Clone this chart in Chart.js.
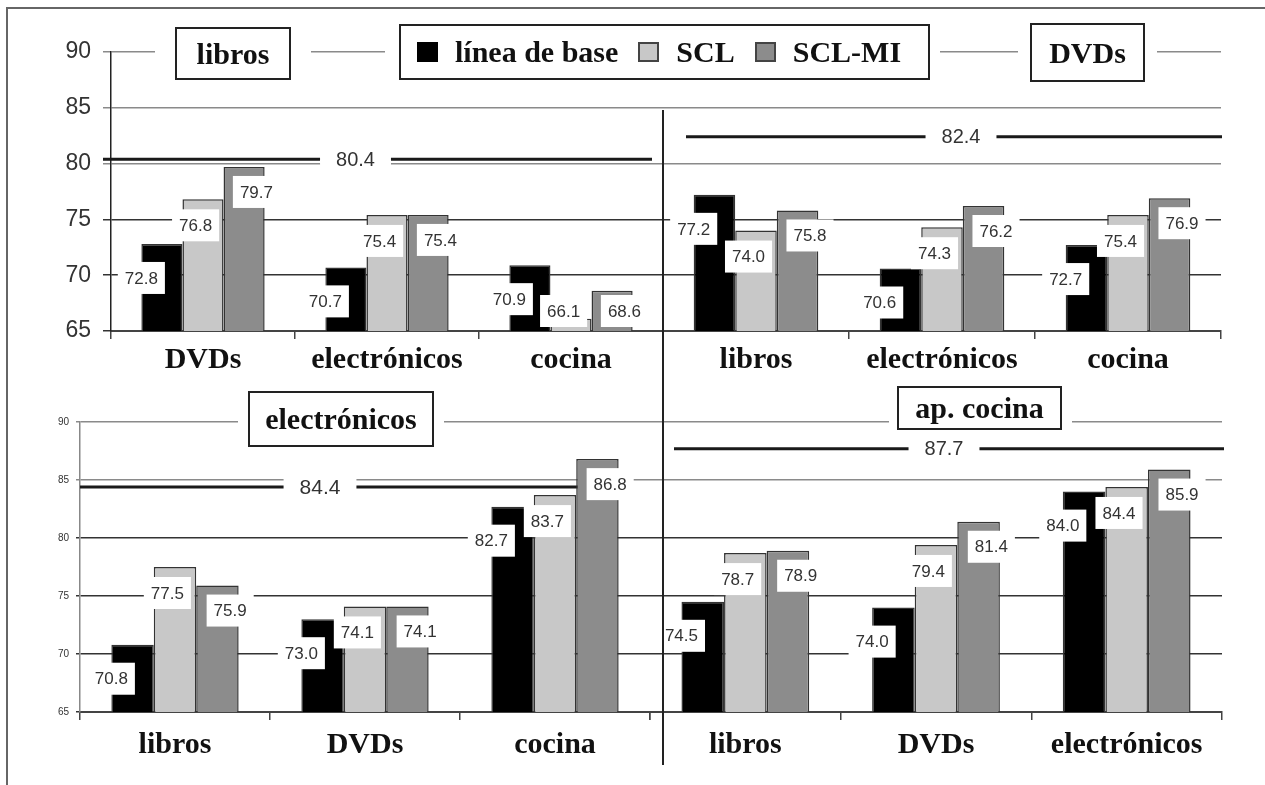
<!DOCTYPE html>
<html>
<head>
<meta charset="utf-8">
<script src="https://cdn.jsdelivr.net/npm/chart.js@4.4.0/dist/chart.umd.min.js"></script>
<style>
body { margin: 0; background: #fff; width: 1265px; height: 785px; overflow: hidden; position: relative; }
canvas { position: absolute; left: 0; top: 0; }
.frame { position: absolute; left: 6px; top: 7px; width: 1280px; height: 800px; border-top: 2px solid #666; border-left: 2px solid #666; }
.divider { position: absolute; left: 662px; top: 110px; width: 2px; height: 655px; background: #222; }
.box { position: absolute; box-sizing: border-box; border: 2px solid #222; background: #fff;
       font-family: 'Liberation Serif', serif; font-weight: bold; font-size: 30px; color: #111;
       display: flex; align-items: center; justify-content: center; }
.legend { justify-content: flex-start; padding-left: 16px; }
.sq { display: inline-block; width: 21px; height: 20px; box-sizing: border-box; margin-right: 17px; }
.item { display: flex; align-items: center; margin-right: 20px; }
</style>
</head>
<body>
<canvas id="libros" width="1265" height="785"></canvas>
<canvas id="dvds" width="1265" height="785"></canvas>
<canvas id="electronicos" width="1265" height="785"></canvas>
<canvas id="cocina" width="1265" height="785"></canvas>

<div class="frame"></div>
<div class="divider"></div>
<div class="box" style="left:175px; top:27px; width:116px; height:53px; box-shadow: 20px 0 0 #fff, -20px 0 0 #fff;">libros</div>
<div class="box legend" id="legend" style="left:399px; top:24px; width:531px; height:56px; box-shadow: 10px 0 0 #fff, -14px 0 0 #fff;"></div>
<div class="box" style="left:1030px; top:23px; width:115px; height:59px; box-shadow: 12px 0 0 #fff, -12px 0 0 #fff;">DVDs</div>
<div class="box" style="left:248px; top:391px; width:186px; height:56px; box-shadow: 10px 0 0 #fff, -10px 0 0 #fff;">electrónicos</div>
<div class="box" style="left:897px; top:386px; width:165px; height:44px; box-shadow: 10px 0 0 #fff, -8px 0 0 #fff;">ap. cocina</div>

<script>
const seriesNames = ['línea de base', 'SCL', 'SCL-MI']
const seriesColors = ['#000000', '#c8c8c8', '#8c8c8c']
const yTicks = [65, 70, 75, 80, 85, 90]

// panel "libros"
const librosCats = ['DVDs', 'electrónicos', 'cocina']
const librosBase = [72.8, 70.7, 70.9]
const librosScl = [76.8, 75.4, 66.1]
const librosSclMi = [79.7, 75.4, 68.6]
const librosRef = 80.4

// panel "DVDs"
const dvdsCats = ['libros', 'electrónicos', 'cocina']
const dvdsBase = [77.2, 70.6, 72.7]
const dvdsScl = [74.0, 74.3, 75.4]
const dvdsSclMi = [75.8, 76.2, 76.9]
const dvdsRef = 82.4

// panel "electrónicos"
const elecCats = ['libros', 'DVDs', 'cocina']
const elecBase = [70.8, 73.0, 82.7]
const elecScl = [77.5, 74.1, 83.7]
const elecSclMi = [75.9, 74.1, 86.8]
const elecRef = 84.4

// panel "ap. cocina"
const cocinaCats = ['libros', 'DVDs', 'electrónicos']
const cocinaBase = [74.5, 74.0, 84.0]
const cocinaScl = [78.7, 79.4, 84.4]
const cocinaSclMi = [78.9, 81.4, 85.9]
const cocinaRef = 87.7

// where each series puts its value box, relative to the bar top
const labelNudge = [{ dx: -0.5, dy: 34 }, { dx: -0.18, dy: 26 }, { dx: 0.3, dy: 25 }]

const legend = document.getElementById('legend')
seriesNames.forEach((name, i) => {
    const border = i === 0 ? '' : 'border:2px solid #444;'
    legend.insertAdjacentHTML('beforeend',
        `<span class="item"><span class="sq" style="background:${seriesColors[i]};${border}"></span>${name}</span>`)
})

const refLinePlugin = {
    id: 'refLine',
    beforeDatasetsDraw(chart, args, opts) {
        const { ctx, chartArea } = chart
        const y = chart.scales.y.getPixelForValue(opts.value)
        const x0 = chartArea.left + opts.startInset
        const x1 = chartArea.right - opts.endInset
        const text = opts.value.toFixed(1)
        ctx.save()
        ctx.font = `${opts.fontSize}px "Liberation Sans", Arial, sans-serif`
        const tw = ctx.measureText(text).width
        const cx = (x0 + x1) / 2 + opts.labelShift
        const gap = tw / 2 + 16
        ctx.fillStyle = '#fff'
        ctx.fillRect(cx - gap, y - 12, gap * 2, 24)
        ctx.strokeStyle = '#1a1a1a'
        ctx.lineWidth = 3
        ctx.beginPath()
        ctx.moveTo(x0, y)
        ctx.lineTo(cx - gap, y)
        ctx.moveTo(cx + gap, y)
        ctx.lineTo(x1, y)
        ctx.stroke()
        ctx.fillStyle = '#333'
        ctx.textAlign = 'center'
        ctx.textBaseline = 'middle'
        ctx.fillText(text, cx, y + 1)
        ctx.restore()
    }
}

const valueLabelPlugin = {
    id: 'valueLabels',
    afterDatasetsDraw(chart) {
        const { ctx, chartArea } = chart
        ctx.save()
        ctx.font = '17px "Liberation Sans", Arial, sans-serif'
        ctx.textAlign = 'center'
        ctx.textBaseline = 'middle'
        chart.data.datasets.forEach((ds, i) => {
            const nudge = labelNudge[i]
            chart.getDatasetMeta(i).data.forEach((bar, j) => {
                const text = ds.data[j].toFixed(1)
                const w = ctx.measureText(text).width + 14
                const h = 32
                const cx = bar.x + nudge.dx * bar.width
                const cy = Math.min(bar.y + nudge.dy, chartArea.bottom - h / 2 - 4)
                ctx.fillStyle = '#fff'
                ctx.fillRect(cx - w / 2, cy - h / 2, w, h)
                ctx.fillStyle = '#333'
                ctx.fillText(text, cx, cy + 1)
            })
        })
        ctx.restore()
    }
}

function makePanel(id, cats, base, scl, sclMi, ref, p) {
    const values = [base, scl, sclMi]
    const yScale = {
        min: 65,
        max: 90,
        afterBuildTicks: s => { s.ticks = yTicks.map(v => ({ value: v })) },
        grid: {
            color: c => (c.tick && c.tick.value >= p.greyFrom) ? '#8a8a8a' : '#333',
            lineWidth: 1.5,
            drawTicks: p.yLabels,
            tickLength: p.tickLength
        },
        afterFit: s => { s.width = p.axisWidth }
    }
    if (p.yLabels) {
        yScale.ticks = { font: { family: 'Liberation Sans', size: p.yFont }, color: '#333', padding: p.yPad }
        yScale.border = { display: true, color: p.axisColor, width: 1.5 }
    } else {
        yScale.ticks = { display: false }
        yScale.border = { display: false }
    }

    return new Chart(document.getElementById(id), {
        type: 'bar',
        data: {
            labels: cats,
            datasets: values.map((v, i) => ({
                label: seriesNames[i],
                data: v,
                backgroundColor: seriesColors[i],
                borderColor: '#333',
                borderWidth: 1.5,
                categoryPercentage: 0.67,
                barPercentage: 1.0
            }))
        },
        options: {
            responsive: false,
            animation: false,
            events: [],
            layout: { padding: p.padding },
            scales: {
                x: {
                    grid: { display: true, drawOnChartArea: false, tickLength: 8, color: '#444', lineWidth: 1.5 },
                    border: { display: true, color: '#444', width: 2 },
                    ticks: {
                        font: { family: 'Liberation Serif', size: 30, weight: 'bold' },
                        color: '#111',
                        padding: p.xPad,
                        autoSkip: false,
                        maxRotation: 0
                    },
                    afterFit: s => { s.height = 60 }
                },
                y: yScale
            },
            plugins: {
                legend: { display: false },
                tooltip: { enabled: false },
                refLine: Object.assign({ value: ref }, p.ref)
            }
        },
        plugins: [refLinePlugin, valueLabelPlugin]
    })
}

makePanel('libros', librosCats, librosBase, librosScl, librosSclMi, librosRef, {
    padding: { left: 0, top: 52, right: 1265 - 663, bottom: 785 - 331 - 60 },
    yLabels: true, yFont: 23, yPad: 12, tickLength: 8, axisWidth: 111, axisColor: '#222',
    greyFrom: 80, xPad: 3,
    ref: { startInset: -8, endInset: 11, labelShift: -22, fontSize: 20 }
})

makePanel('dvds', dvdsCats, dvdsBase, dvdsScl, dvdsSclMi, dvdsRef, {
    padding: { left: 663, top: 52, right: 1265 - 1221, bottom: 785 - 331 - 60 },
    yLabels: false, tickLength: 0, axisWidth: 0,
    greyFrom: 80, xPad: 3,
    ref: { startInset: 23, endInset: -1, labelShift: 7, fontSize: 20 }
})

makePanel('electronicos', elecCats, elecBase, elecScl, elecSclMi, elecRef, {
    padding: { left: 0, top: 422, right: 1265 - 650, bottom: 785 - 712 - 60 },
    yLabels: true, yFont: 10, yPad: 7, tickLength: 4, axisWidth: 80, axisColor: '#888',
    greyFrom: 85, xPad: 7,
    ref: { startInset: 0, endInset: 30, labelShift: -30, fontSize: 21 }
})

makePanel('cocina', cocinaCats, cocinaBase, cocinaScl, cocinaSclMi, cocinaRef, {
    padding: { left: 650, top: 422, right: 1265 - 1222, bottom: 785 - 712 - 60 },
    yLabels: false, tickLength: 0, axisWidth: 0,
    greyFrom: 85, xPad: 7,
    ref: { startInset: 24, endInset: -2, labelShift: -5, fontSize: 20 }
})
</script>
</body>
</html>
